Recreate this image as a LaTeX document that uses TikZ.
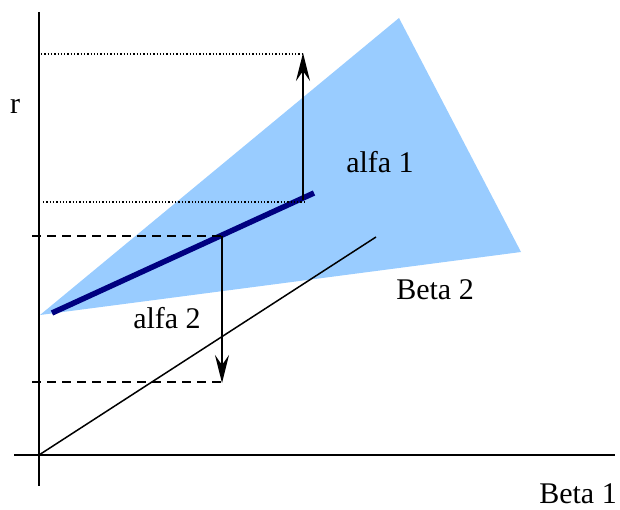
\documentclass[tikz,border=0pt]{standalone}
\usepackage{fontspec}
\setmainfont{Liberation Serif}
\usetikzlibrary{arrows.meta}
\definecolor{lightblue}{HTML}{99CCFF}
\definecolor{navyline}{HTML}{000080}
\tikzset{
  axis/.style={line width=2pt, black},
  guidedot/.style={line width=1.3pt, dotted, black},
  guidedash/.style={line width=1.6pt, dash pattern=on 9pt off 6pt, black},
  arr/.style={line width=2pt, -{Stealth[length=28pt, width=14pt, inset=10pt]}},
  lbl/.style={font=\fontsize{30}{34}\selectfont, inner sep=0pt},
}
\begin{document}
\begin{tikzpicture}[x=1pt, y=-1pt]
\useasboundingbox (0,0) rectangle (620,510);
% triangle
\fill[lightblue] (40,315) -- (399,18) -- (521,252) -- cycle;
% axes
\coordinate (ytop) at (39,12);
\coordinate (ybot) at (39,486);
\coordinate (xl) at (14,455);
\coordinate (xr) at (615,455);
\draw[axis] (ytop) -- (ybot);
\draw[axis] (xl) -- (xr);
% thin line
\coordinate (o) at (39,455);
\coordinate (t) at (376,237);
\draw[line width=1.5pt] (o) -- (t);
% thick line
\coordinate (p1) at (52,313);
\coordinate (p2) at (314,193);
\draw[navyline, line width=5.5pt] (p1) -- (p2);
% dotted guides
\coordinate (d1a) at (41,54);
\coordinate (d1b) at (302,54);
\coordinate (d2a) at (43,202);
\coordinate (d2b) at (305,202);
\draw[guidedot] (d1a) -- (d1b);
\draw[guidedot] (d2a) -- (d2b);
% dashed guides
\coordinate (e1a) at (32,236);
\coordinate (e1b) at (222,236);
\coordinate (e2a) at (32,382);
\coordinate (e2b) at (225,382);
\draw[guidedash] (e1a) -- (e1b);
\draw[guidedash] (e2a) -- (e2b);
% arrows
\coordinate (a1s) at (303,200);
\coordinate (a1e) at (303,53);
\draw[arr] (a1s) -- (a1e);
\coordinate (a2s) at (222,236);
\coordinate (a2e) at (222,383);
\draw[arr] (a2s) -- (a2e);
% labels
\node[lbl] (r) at (15,106) {r};
\node[lbl] (alfa1) at (380,162) {alfa 1};
\node[lbl] (beta2) at (435,290) {Beta 2};
\node[lbl] (alfa2) at (167,318) {alfa 2};
\node[lbl] (beta1) at (578,494) {Beta 1};
\end{tikzpicture}
\end{document}
